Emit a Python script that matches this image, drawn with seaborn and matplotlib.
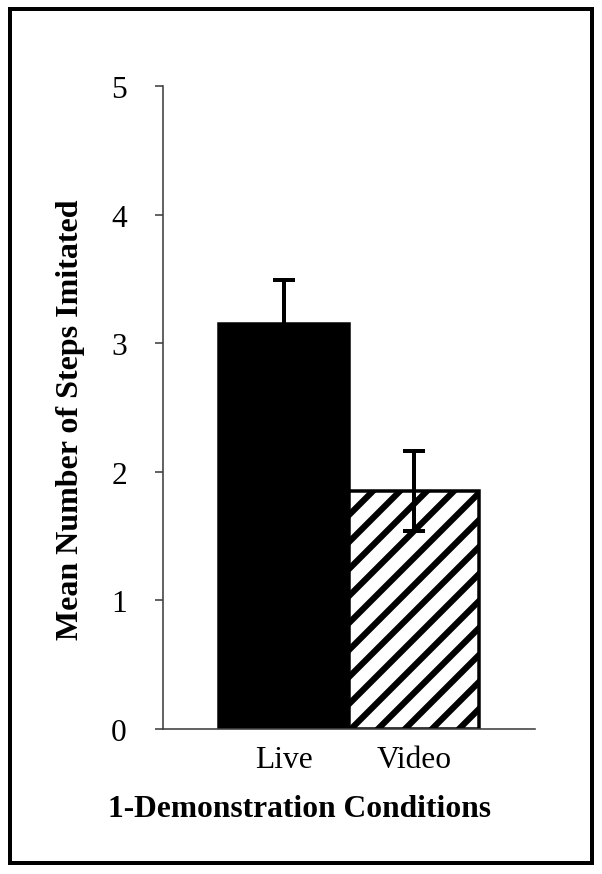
import matplotlib
matplotlib.use('Agg')
import matplotlib.pyplot as plt
import seaborn as sns
import pandas as pd
from matplotlib.patches import Rectangle

# values
conditions = ['Live', 'Video']
mean_steps = [3.15, 1.85]
sem_steps = [0.34, 0.31]
bar_colors = ['black', 'white']
bar_hatches = ['', '/']

# low dpi so the hatch spacing comes out like the original
DPI = 81
W, H = 602, 875


def pt(px):
    # pixels -> points at this dpi
    return px * 72.0 / DPI


sns.set_theme(style='white')
plt.rcParams['font.family'] = ['Liberation Serif', 'DejaVu Serif']
plt.rcParams['text.color'] = 'black'
plt.rcParams['axes.labelcolor'] = 'black'
plt.rcParams['xtick.color'] = 'black'
plt.rcParams['ytick.color'] = 'black'
plt.rcParams['hatch.linewidth'] = pt(6.2)
plt.rcParams['hatch.color'] = 'black'

df = pd.DataFrame({'Condition': conditions, 'Mean': mean_steps, 'SEM': sem_steps})

fig = plt.figure(figsize=(W / DPI, H / DPI), dpi=DPI)
ax = fig.add_axes([163 / W, 1 - 730 / H, (535 - 163) / W, (730 - 87) / H])

sns.barplot(data=df, x='Condition', y='Mean', hue='Condition', palette=bar_colors,
            width=1.0, errorbar=None, legend=False, ax=ax, saturation=1)
for patch, hatch in zip(ax.patches, bar_hatches):
    patch.set_edgecolor('black')
    patch.set_linewidth(pt(3.5))
    patch.set_hatch(hatch)

ax.errorbar(range(len(conditions)), df['Mean'], yerr=df['SEM'], fmt='none',
            ecolor='black', elinewidth=pt(4), capsize=pt(11), capthick=pt(4), zorder=5)

ax.set_xlim(-0.93, 1.93)
ax.set_ylim(0, 5)
ax.set_yticks([0, 1, 2, 3, 4, 5])
sns.despine(ax=ax)
for side in ['left', 'bottom']:
    ax.spines[side].set_color('#404040')
    ax.spines[side].set_linewidth(pt(1.6))
ax.tick_params(axis='y', direction='out', length=pt(8), width=pt(1.6), color='#404040',
               labelsize=pt(31.5), pad=pt(28), left=True)
ax.tick_params(axis='x', length=0, labelsize=pt(31.5), pad=pt(16))

ax.set_ylabel('Mean Number of Steps Imitated', fontsize=pt(32), fontweight='bold')
ax.yaxis.set_label_coords(-0.21, 0.482)
ax.set_xlabel('1-Demonstration Conditions', fontsize=pt(31.5), fontweight='bold')
ax.xaxis.set_label_coords(0.366, -0.101)

# frame round the whole figure
fig.patches.append(Rectangle((10 / W, 1 - 864 / H), 582 / W, 854 / H,
                             transform=fig.transFigure, fill=False,
                             edgecolor='black', linewidth=pt(4)))

fig.savefig('out.png', dpi=DPI)
